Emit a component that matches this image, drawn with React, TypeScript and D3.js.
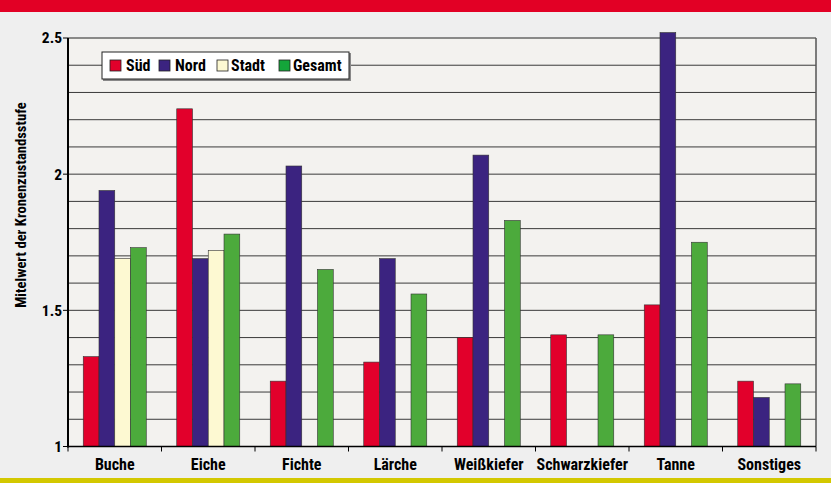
import React from "react";
import * as d3 from "d3";

const categories = ["Buche", "Eiche", "Fichte", "Lärche", "Weißkiefer", "Schwarzkiefer", "Tanne", "Sonstiges"];
const seriesNames = ["Süd", "Nord", "Stadt", "Gesamt"];
const sued = [1.33, 2.24, 1.24, 1.31, 1.40, 1.41, 1.52, 1.24];
const nord = [1.94, 1.69, 2.03, 1.69, 2.07, null, 2.52, 1.18];
const stadt = [1.69, 1.72, null, null, null, null, null, null];
const gesamt = [1.73, 1.78, 1.65, 1.56, 1.83, 1.41, 1.75, 1.23];
const yTicks = [1, 1.5, 2, 2.5];
const yLabels = ["1", "1.5", "2", "2.5"];

const seriesValues = [sued, nord, stadt, gesamt];
const colors = ["#e2002b", "#3b2380", "#fdf9d2", "#4caa3c"];
const legendColors = ["#e2002b", "#3b2380", "#fdf9d2", "#14a53a"];

const W = 831, H = 483;
const left = 68, right = 816, top = 38, bottom = 446.5;
const font = "'Liberation Sans Narrow', 'Arial Narrow', 'Roboto Condensed', 'Liberation Sans', sans-serif";

export default function App() {
  const x = d3.scaleBand<string>().domain(categories).range([left, right]).paddingInner(0).paddingOuter(0);
  const groupW = x.bandwidth() * 0.674;
  const inner = d3.scaleBand<string>().domain(seriesNames).range([0, groupW]).padding(0);
  const y = d3.scaleLinear().domain([1, 2.5]).range([bottom, top]);
  const grid = d3.range(11, 25).map((v) => v / 10);

  const legendItems = [
    { x: 110, tx: 126 },
    { x: 159, tx: 175 },
    { x: 217, tx: 231 },
    { x: 279, tx: 293 },
  ];

  return (
    <svg width={W} height={H} style={{ position: "absolute", left: 0, top: 0, display: "block" }}>
      <rect x={0} y={0} width={W} height={H} fill="#efefef" />
      <rect x={0} y={0} width={W} height={12} fill="#e20025" />
      <rect x={0} y={478} width={W} height={5} fill="#d3c800" />
      <rect x={left} y={top} width={right - left} height={bottom - top} fill="#f3f2ef" />
      {grid.map((g) => (
        <line key={g} x1={left} x2={right} y1={y(g)} y2={y(g)} stroke="#3a3a3a" strokeWidth={1} />
      ))}
      <line x1={left} x2={right} y1={y(2.5)} y2={y(2.5)} stroke="#222" strokeWidth={1} />
      <line x1={right} x2={right} y1={top} y2={bottom} stroke="#555" strokeWidth={1.5} />
      {categories.map((c, ci) =>
        seriesValues.map((vals, si) => {
          const v = vals[ci];
          if (v == null) return null;
          const bx = (x(c) as number) + (x.bandwidth() - groupW) / 2 + (inner(seriesNames[si]) as number);
          return (
            <rect
              key={c + si}
              x={bx}
              y={y(v)}
              width={inner.bandwidth()}
              height={bottom - y(v)}
              fill={colors[si]}
              stroke="#333"
              strokeWidth={0.6}
            />
          );
        })
      )}
      <line x1={left} x2={left} y1={top} y2={bottom + 1} stroke="#000" strokeWidth={2} />
      <line x1={left - 1} x2={right} y1={bottom} y2={bottom} stroke="#000" strokeWidth={1.5} />
      {yTicks.map((t, i) => (
        <g key={t}>
          <line x1={left - 5} x2={left} y1={y(t)} y2={y(t)} stroke="#000" strokeWidth={1} />
          <text x={left - 6} y={y(t)} dy="0.35em" textAnchor="end" fontFamily={font} fontWeight="bold" fontSize={15.5} fill="#000">
            {yLabels[i]}
          </text>
        </g>
      ))}
      {categories.map((c) => (
        <line key={"t" + c} x1={(x(c) as number)} x2={(x(c) as number)} y1={bottom} y2={bottom + 5} stroke="#000" strokeWidth={1} />
      ))}
      <line x1={right} x2={right} y1={bottom} y2={bottom + 5} stroke="#000" strokeWidth={1} />
      {categories.map((c) => (
        <text key={"l" + c} x={(x(c) as number) + x.bandwidth() / 2} y={470} textAnchor="middle" fontFamily={font} fontWeight="bold" fontSize={16} fill="#000">
          {c}
        </text>
      ))}
      <text
        transform={`translate(26,${205}) rotate(-90)`}
        textAnchor="middle"
        fontFamily={font}
        fontWeight="bold"
        fontSize={14.6}
        fill="#000"
      >
        Mitelwert der Kronenzustandsstufe
      </text>
      <rect x={103} y={53} width={248} height={28} fill="#888" />
      <rect x={102} y={52} width={247} height={27} fill="#fff" stroke="#222" strokeWidth={1} />
      {seriesNames.map((s, i) => (
        <g key={"lg" + s}>
          <rect x={legendItems[i].x} y={60} width={11} height={11} fill={legendColors[i]} stroke="#222" strokeWidth={0.8} />
          <text x={legendItems[i].tx} y={71} fontFamily={font} fontWeight="bold" fontSize={16} fill="#000">
            {s}
          </text>
        </g>
      ))}
    </svg>
  );
}
